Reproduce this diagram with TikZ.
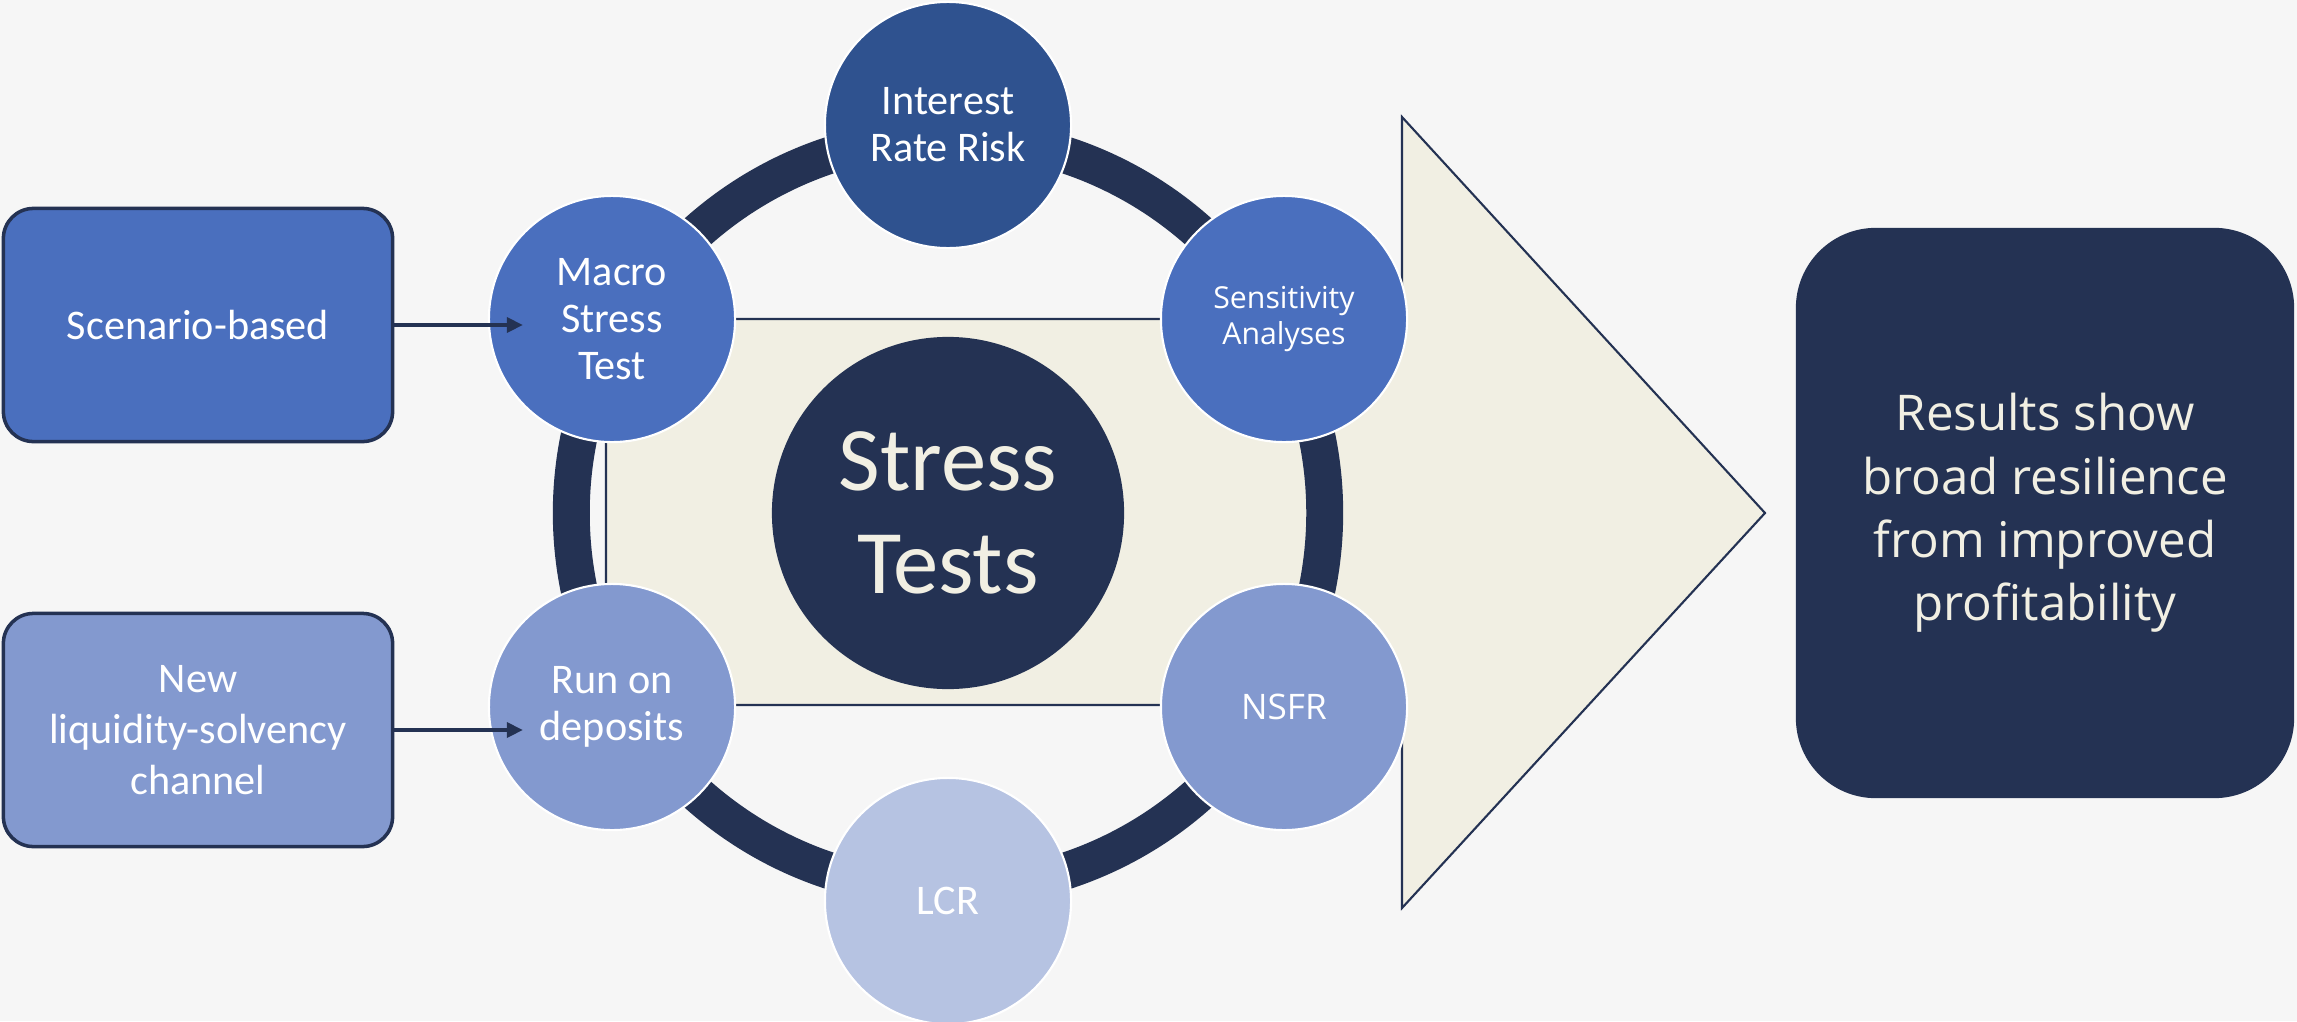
\documentclass[tikz,border=0pt]{standalone}
\usepackage{fontspec}
\setmainfont{Carlito}
\newfontfamily\segoe{Open Sans}
\usetikzlibrary{arrows.meta,calc}
\definecolor{bg}{HTML}{F6F6F6}
\definecolor{navy}{HTML}{243253}
\definecolor{midblue}{HTML}{4A6FBE}
\definecolor{deepblue}{HTML}{2F528F}
\definecolor{softblue}{HTML}{8399CF}
\definecolor{paleblue}{HTML}{B6C3E2}
\definecolor{cream}{HTML}{F1EFE3}

\begin{document}
\begin{tikzpicture}[x=0.01cm,y=-0.01cm,
  bub/.style={circle, draw=white, line width=0.6pt, minimum size=2.46cm,
    inner sep=0pt, text=white, align=center,
    font=\fontsize{12}{13.4}\selectfont},
  sidebox/.style={rounded corners=0.3cm, draw=navy, line width=1pt,
    minimum width=3.89cm, minimum height=2.33cm, text=white, align=center,
    font=\fontsize{12}{14.4}\selectfont},
  feed/.style={draw=navy, line width=0.95pt,
    -{Triangle[length=0.16cm,width=0.15cm]}},
]
\path[use as bounding box] (0,0) rectangle (2297,1021);
\fill[bg] (0,0) rectangle (2297,1021);

% beige panel with block arrow head
\draw[navy, line width=0.6pt, fill=cream, line join=miter]
  (606,319) -- (1402,319) -- (1402,117) -- (1765,513) -- (1402,908)
  -- (1402,705) -- (606,705) -- cycle;

% ring linking the test circles
\draw[navy, line width=10.5pt] (948,513) circle[radius=3.765cm];

% central hub
\node[circle, fill=navy, minimum size=3.52cm, inner sep=0pt, text=cream,
  align=center, font=\fontsize{25.8}{29.5}\selectfont] (hub) at (948,513)
  {Stress\\Tests};

% test circles around the ring
\node[bub, fill=deepblue] (irr) at (948,125) {Interest\\Rate Risk};
\node[bub, fill=midblue, font=\segoe\fontsize{8.6}{10.4}\selectfont]
  (sens) at (1284,319) {Sensitivity\\Analyses};
\node[bub, fill=softblue, font=\segoe\fontsize{10}{12}\selectfont]
  (nsfr) at (1284,707) {NSFR};
\node[bub, fill=paleblue] (lcr) at (948,901) {LCR};
\node[bub, fill=softblue] (run) at (612,707) {Run on\\deposits};
\node[bub, fill=midblue] (mst) at (612,319) {Macro\\Stress\\Test};

% input boxes
\node[sidebox, fill=midblue] (sb) at (198,325) {Scenario-based};
\node[sidebox, fill=softblue] (lsc) at (198,730)
  {New\\liquidity-solvency\\channel};

\draw[feed] (sb.east) -- ($(sb.east -| mst.west)+(35,0)$);
\draw[feed] (lsc.east) -- ($(lsc.east -| run.west)+(35,0)$);

% outcome box
\node[rounded corners=0.8cm, fill=navy, minimum width=4.98cm,
  minimum height=5.70cm, text=cream, align=center,
  font=\segoe\fontsize{14}{18}\selectfont] (res) at (2045,513)
  {Results show\\broad resilience\\from improved\\profitability};
\end{tikzpicture}
\end{document}
